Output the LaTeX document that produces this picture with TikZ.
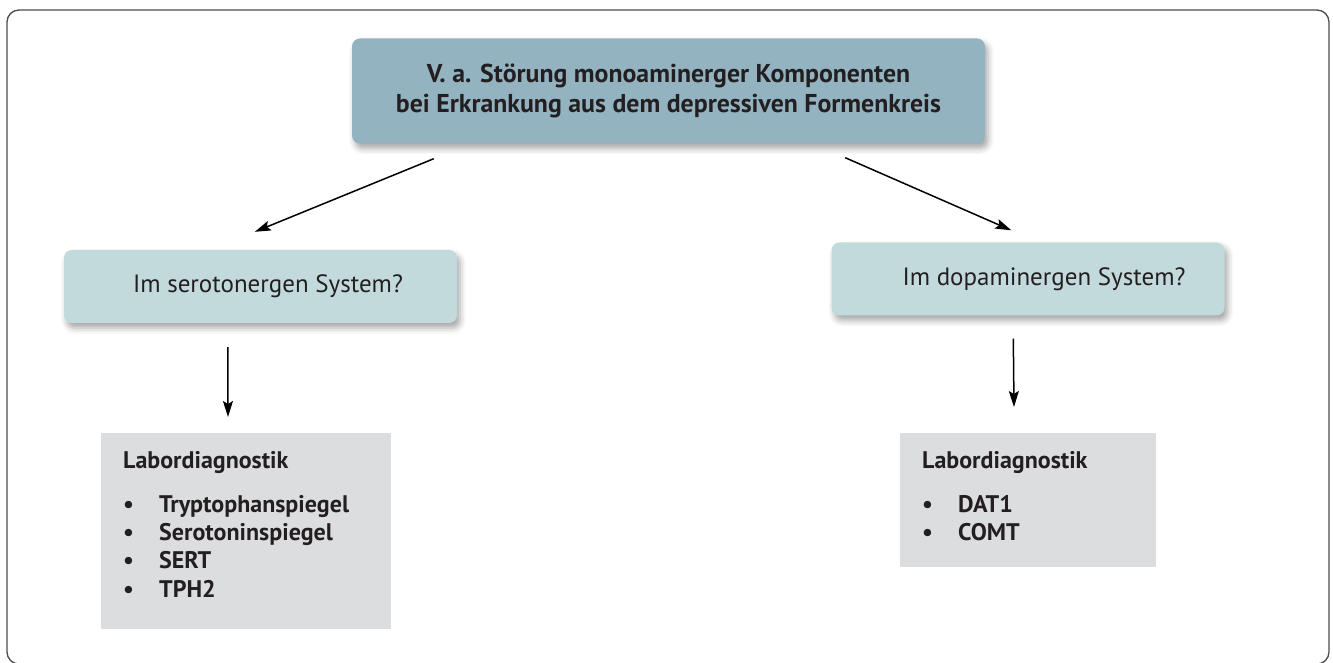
\documentclass[tikz,border=0pt]{standalone}
\usepackage{fontspec}
\setmainfont{PT Sans}
\usetikzlibrary{arrows.meta,shadows.blur}

\definecolor{titleblue}{HTML}{93B3C1}
\definecolor{lightblue}{HTML}{C3DADD}
\definecolor{labgray}{HTML}{DCDDDF}
\definecolor{inkdark}{HTML}{231F20}
\newcommand{\labitem}[1]{\makebox[36pt][l]{\textbullet}#1}

\tikzset{
  softshadow/.style={blur shadow={shadow xshift=3pt, shadow yshift=-5pt, shadow blur radius=6pt, shadow opacity=35}},
  titlebox/.style={fill=titleblue, rounded corners=8pt, softshadow, minimum width=633pt, minimum height=105pt, align=center, text=inkdark, font=\bfseries\fontsize{25.8}{30.5}\selectfont},
  sysbox/.style={fill=lightblue, rounded corners=8pt, softshadow, minimum width=393pt, minimum height=73pt},
  systext/.style={anchor=west, inner sep=0pt, text=inkdark, font=\fontsize{25}{28}\selectfont},
  labbox/.style={fill=labgray, anchor=north west},
  labtext/.style={anchor=north west, inner sep=0pt, align=left, text=inkdark, font=\bfseries\fontsize{24}{28.3}\selectfont},
  pfeil/.style={-{Stealth[length=16pt,width=10pt,inset=3pt]}, line width=1.5pt}
}

\begin{document}
\begin{tikzpicture}[x=1pt,y=1pt]
\useasboundingbox (0,0) rectangle (1333,662);
\draw[gray!60!black, line width=1.3pt, rounded corners=12pt] (7,-2) rectangle (1329,652);

% oben
\node[titlebox] (stoerung) at (668.5,571) {V. a. Störung monoaminerger Komponenten\\bei Erkrankung aus dem depressiven Formenkreis};

% Systeme
\node[sysbox] (sero) at (260.5,375.5) {};
\node[systext] (serotext) at ([xshift=69pt]sero.west) {Im serotonergen System?};
\node[sysbox] (dopa) at (1028,383) {};
\node[systext] (dopatext) at ([xshift=71pt]dopa.west) {Im dopaminergen System?};

% Labor
\node[labbox, minimum width=290pt, minimum height=196pt] (laborsero) at (101,229) {};
\node[labtext] (listesero) at ([shift={(22pt,-18pt)}]laborsero.north west) {Labordiagnostik\\[15.7pt]
\labitem{Tryptophanspiegel}\\ \labitem{Serotoninspiegel}\\ \labitem{SERT}\\ \labitem{TPH2}};
\node[labbox, minimum width=256pt, minimum height=134pt] (labordopa) at (900,229) {};
\node[labtext] (listedopa) at ([shift={(22pt,-18pt)}]labordopa.north west) {Labordiagnostik\\[15.7pt]
\labitem{DAT1}\\ \labitem{COMT}};

% Pfeile
\draw[pfeil] ([shift={(82pt,-15pt)}]stoerung.south west) -- ([shift={(191pt,18pt)}]sero.north west);
\draw[pfeil] ([shift={(-140pt,-14pt)}]stoerung.south east) -- ([shift={(180pt,12pt)}]dopa.north west);
\draw[pfeil] ([shift={(164pt,-24pt)}]sero.south west) -- ([shift={(127pt,16pt)}]laborsero.north west);
\draw[pfeil] ([shift={(182pt,-23pt)}]dopa.south west) -- ([shift={(114pt,26pt)}]labordopa.north west);
\end{tikzpicture}
\end{document}
